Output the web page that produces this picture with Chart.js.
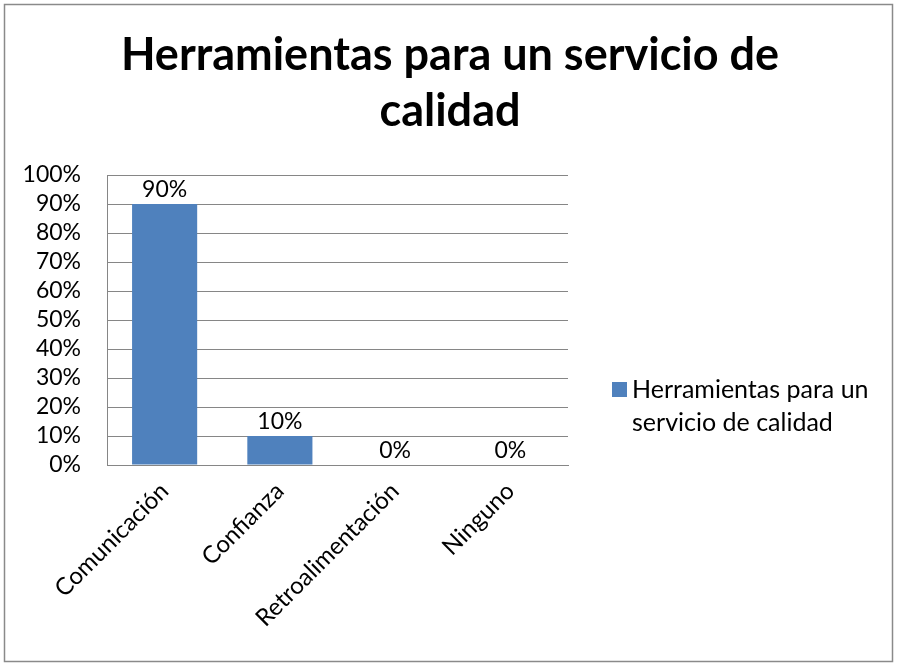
<!DOCTYPE html>
<html>
<head>
<meta charset="utf-8">
<script src="https://cdn.jsdelivr.net/npm/chart.js@4"></script>
<style>
  html, body { margin: 0; padding: 0; background: #fff; }
  #wrap { width: 897px; height: 666px; }
</style>
</head>
<body>
<div id="wrap"><canvas id="c" width="897" height="666"></canvas></div>
<script>
// chart data
const categories = ['Comunicación', 'Confianza', 'Retroalimentación', 'Ninguno'];
const values = [90, 10, 0, 0];
const seriesName = 'Herramientas para un servicio de calidad';
const titleLines = ['Herramientas para un servicio de', 'calidad'];
const legendLines = ['Herramientas para un', 'servicio de calidad'];

const FONT = 'Lato, "Open Sans", sans-serif';
const GRID = '#868686';
const BAR = '#4F81BD';

// white page, thin frame and the title centred on the whole page
const frame = {
  id: 'frame',
  beforeDraw(chart) {
    const c = chart.ctx;
    c.save();
    c.fillStyle = '#fff';
    c.fillRect(0, 0, chart.width, chart.height);
    c.strokeStyle = '#8a8a8a';
    c.lineWidth = 1.5;
    c.strokeRect(4.5, 4.5, chart.width - 9, chart.height - 9);
    c.font = 'bold 45px ' + FONT;
    c.fillStyle = '#000';
    c.textAlign = 'center';
    c.textBaseline = 'alphabetic';
    titleLines.forEach((t, i) => c.fillText(t, 450, 70 + i * 56));
    c.restore();
  }
};

// value labels above the bars
const valueLabels = {
  id: 'valueLabels',
  afterDatasetsDraw(chart) {
    const c = chart.ctx;
    const meta = chart.getDatasetMeta(0);
    c.save();
    c.font = '23px ' + FONT;
    c.fillStyle = '#000';
    c.textAlign = 'center';
    c.textBaseline = 'bottom';
    meta.data.forEach((bar, i) => {
      c.fillText(values[i] + '%', bar.x, bar.y - 3);
    });
    c.restore();
  }
};

// legend on the right, wrapped in two lines
const sideLegend = {
  id: 'sideLegend',
  afterDraw(chart) {
    const c = chart.ctx;
    const x = 612, y = 382;
    c.save();
    c.fillStyle = chart.data.datasets[0].backgroundColor;
    c.fillRect(x, y, 15, 15);
    c.font = '25px ' + FONT;
    c.fillStyle = '#000';
    c.textBaseline = 'middle';
    legendLines.forEach((t, i) => c.fillText(t, x + 20, y + 8 + i * 33));
    c.restore();
  }
};

new Chart(document.getElementById('c'), {
  type: 'bar',
  data: {
    labels: categories,
    datasets: [{
      label: seriesName,
      data: values,
      backgroundColor: BAR,
      categoryPercentage: 1,
      barPercentage: 0.565
    }]
  },
  options: {
    responsive: false,
    animation: false,
    devicePixelRatio: 1,
    layout: { padding: { left: 0, right: 329, top: 175, bottom: 0 } },
    plugins: {
      legend: { display: false },
      tooltip: { enabled: false },
      title: { display: false }
    },
    scales: {
      x: {
        grid: { display: false, drawTicks: false },
        border: { color: GRID, width: 1 },
        ticks: {
          color: '#000',
          font: { family: FONT, size: 24 },
          minRotation: 45,
          maxRotation: 45,
          autoSkip: false,
          padding: 12
        },
        afterFit(s) { s.height = 201; }
      },
      y: {
        min: 0,
        max: 100,
        grid: { color: GRID, drawTicks: false },
        border: { color: GRID, width: 1 },
        ticks: {
          stepSize: 10,
          autoSkip: false,
          color: '#000',
          font: { family: FONT, size: 23 },
          padding: 26,
          callback: v => v + '%'
        },
        afterFit(s) { s.width = 107; }
      }
    }
  },
  plugins: [frame, valueLabels, sideLegend]
});
</script>
</body>
</html>
